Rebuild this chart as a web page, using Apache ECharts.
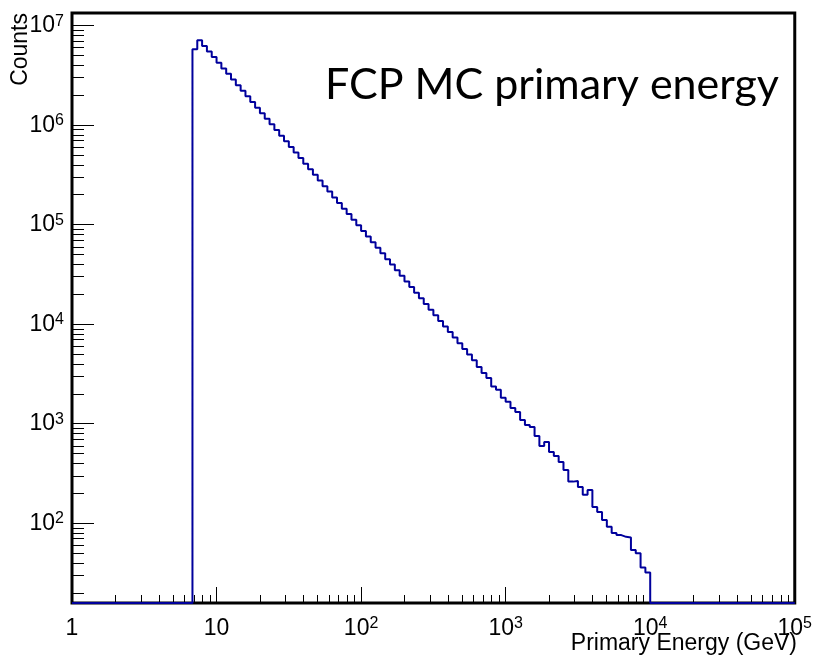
<!DOCTYPE html>
<html><head><meta charset="utf-8">
<script src="https://cdn.jsdelivr.net/npm/echarts@6.0.0/dist/echarts.min.js"></script>
<style>html,body{margin:0;padding:0;background:#fff}#c{width:815px;height:664px}</style>
</head><body><div id="c"></div>
<script>
const chartTitle = 'FCP MC primary energy';
const xTitle = 'Primary Energy (GeV)';
const yTitle = 'Counts';
const xRange = [1, 100000];
const yRange = [15.8, 1.34e7];
const binsPerDecade = 30;
const firstFilledBin = 25;
const counts = [
  5.8e6, 7.15e6, 6.25e6, 5.5e6, 4.85e6, 4.25e6, 3.72e6, 3.28e6, 2.88e6, 2.52e6,
  2.22e6, 1.95e6, 1.71e6, 1.50e6, 1.32e6, 1.16e6, 1.02e6, 8.95e5, 7.85e5, 6.9e5,
  6.05e5, 5.32e5, 4.68e5, 4.1e5, 3.6e5, 3.17e5, 2.78e5, 2.44e5, 2.15e5, 1.88e5,
  1.65e5, 1.45e5, 1.28e5, 1.12e5, 9.85e4, 8.65e4, 7.6e4, 6.65e4, 5.85e4, 5.15e4,
  4.5e4, 3.97e4, 3.48e4, 3.06e4, 2.69e4, 2.36e4, 2.07e4, 1.82e4, 1.6e4, 1.4e4,
  1.23e4, 1.08e4, 9500, 8350, 7350, 6450, 5650, 4950, 4350, 3720,
  3240, 2880, 2360, 2190, 1820, 1660, 1440, 1310, 1090, 972,
  927, 753, 598, 655, 520, 475, 413, 343, 262, 266,
  232, 193, 216, 146, 130, 108, 92, 80, 76, 73,
  72, 54, 50, 36, 32
];
const xMajorTicks = [1, 10, 100, 1000, 10000, 100000];
const yMajorTicks = [100, 1000, 10000, 100000, 1000000, 10000000];

function minorTicks(lo, hi) {
  const out = [];
  for (let d = Math.floor(Math.log10(lo)); d <= Math.ceil(Math.log10(hi)); d++) {
    for (let m = 2; m <= 9; m++) {
      const v = m * Math.pow(10, d);
      if (v > lo && v < hi) out.push(v);
    }
  }
  return out;
}

const nBins = binsPerDecade * Math.round(Math.log10(xRange[1] / xRange[0]));
const points = [];
for (let k = 0; k < nBins; k++) {
  const edge = xRange[0] * Math.pow(10, k / binsPerDecade);
  const i = k - firstFilledBin;
  const c = (i >= 0 && i < counts.length) ? counts[i] : 0;
  points.push([edge, c > 0 ? c : yRange[0]]);
}
points.push([xRange[1], yRange[0]]);

const FONT = 'Liberation Sans';
function powLabel(v) {
  const e = Math.round(Math.log10(v));
  if (e === 0) return '{b|1}';
  if (e === 1) return '{b|10}';
  return '{b|10}{s|' + e + '}';
}
const rich = {
  b: { fontSize: 23, fontFamily: FONT, color: '#000', lineHeight: 25 },
  s: { fontSize: 16, fontFamily: FONT, color: '#000', lineHeight: 16, verticalAlign: 'top' }
};
const tickStyle = { color: '#000', width: 1 };

const chart = echarts.init(document.getElementById('c'), null, { renderer: 'canvas' });
chart.setOption({
  animation: false,
  textStyle: { fontFamily: FONT },
  grid: { left: 72, right: 18, top: 13, bottom: 61, show: true, borderColor: '#000', borderWidth: 3, backgroundColor: 'transparent' },
  xAxis: [
    { type: 'log', min: xRange[0], max: xRange[1], position: 'bottom',
      axisLine: { show: false }, splitLine: { show: false },
      axisTick: { show: true, inside: true, length: 16, customValues: xMajorTicks, lineStyle: tickStyle },
      axisLabel: { customValues: xMajorTicks, formatter: powLabel, margin: 13, rich: rich, showMinLabel: true, showMaxLabel: true } },
    { type: 'log', min: xRange[0], max: xRange[1], position: 'bottom',
      axisLine: { show: false }, splitLine: { show: false }, axisLabel: { show: false },
      axisTick: { show: true, inside: true, length: 8, customValues: minorTicks(xRange[0], xRange[1]), lineStyle: tickStyle } }
  ],
  yAxis: [
    { type: 'log', min: yRange[0], max: yRange[1], position: 'left',
      axisLine: { show: false }, splitLine: { show: false },
      axisTick: { show: true, inside: true, length: 22, customValues: yMajorTicks, lineStyle: tickStyle },
      axisLabel: { customValues: yMajorTicks, formatter: powLabel, margin: 8, rich: rich } },
    { type: 'log', min: yRange[0], max: yRange[1], position: 'left',
      axisLine: { show: false }, splitLine: { show: false }, axisLabel: { show: false },
      axisTick: { show: true, inside: true, length: 12, customValues: minorTicks(yRange[0], yRange[1]), lineStyle: tickStyle } }
  ],
  series: [{
    type: 'line', step: 'end', symbol: 'none', xAxisIndex: 0, yAxisIndex: 0,
    lineStyle: { color: '#00009c', width: 2 },
    data: points
  }],
  graphic: [
    { type: 'text', x: 325, y: 85, style: { text: chartTitle, font: '43px Lato', fill: '#000', textAlign: 'left', textVerticalAlign: 'middle', align: 'left', verticalAlign: 'middle' } },
    { type: 'text', x: 797, y: 644, style: { text: xTitle, font: '23px "Liberation Sans"', fill: '#000', textAlign: 'right', textVerticalAlign: 'middle', align: 'right', verticalAlign: 'middle' } },
    { type: 'text', x: 32, y: 13, rotation: Math.PI / 2, style: { text: yTitle, font: '23px "Liberation Sans"', fill: '#000', textAlign: 'right', textVerticalAlign: 'bottom', align: 'right', verticalAlign: 'bottom' } }
  ]
});
</script>
</body></html>
